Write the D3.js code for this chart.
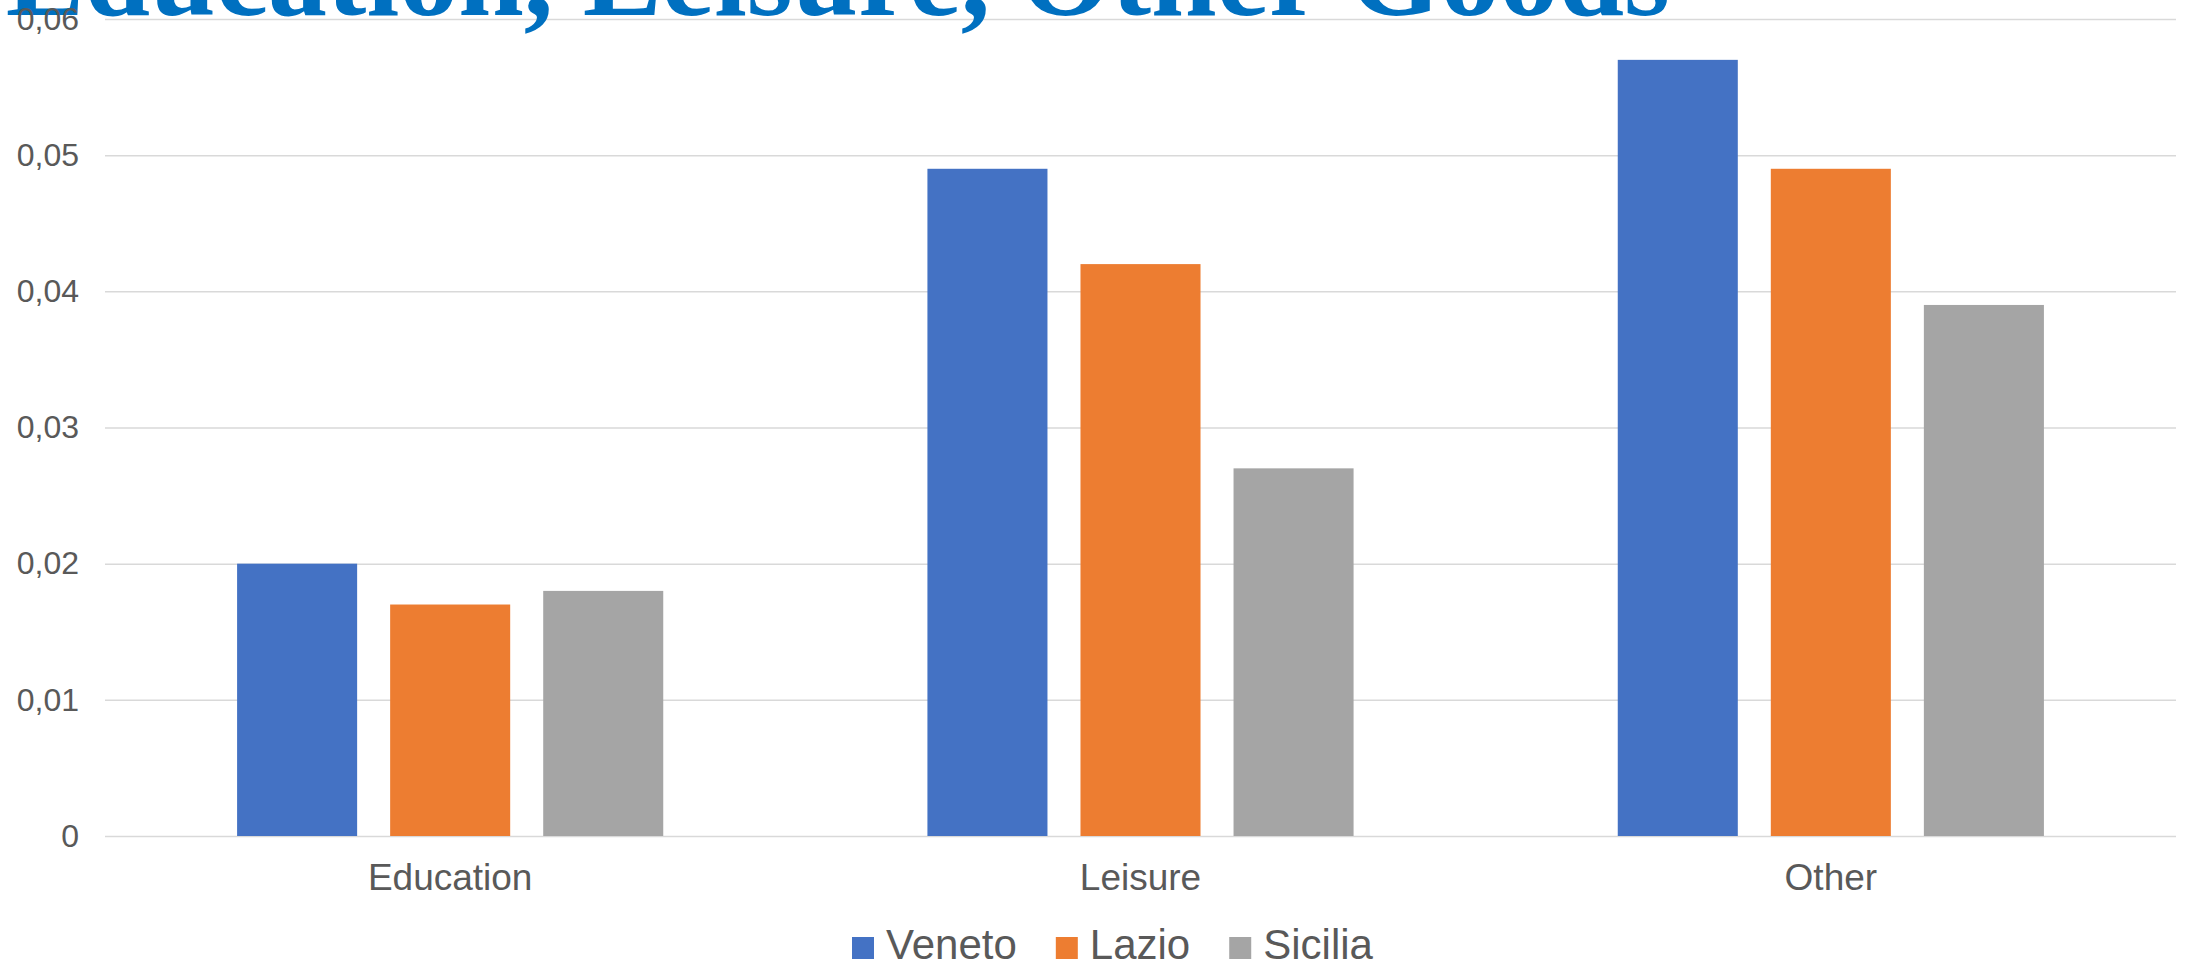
<!DOCTYPE html>
<html>
<head>
<meta charset="utf-8">
<script src="https://cdn.jsdelivr.net/npm/d3@7"></script>
<style>
  html, body { margin: 0; padding: 0; background: #ffffff; overflow: hidden; }
  svg { display: block; }
</style>
</head>
<body>
<svg id="chart" width="2188" height="969"></svg>
<script>
// Spending shares by category and region
const categories = ["Education", "Leisure", "Other"];
const regions = ["Veneto", "Lazio", "Sicilia"];
const veneto = [0.020, 0.049, 0.057];
const lazio = [0.017, 0.042, 0.049];
const sicilia = [0.018, 0.027, 0.039];
const yTicks = [0, 0.01, 0.02, 0.03, 0.04, 0.05, 0.06];
const yTickLabels = ["0", "0,01", "0,02", "0,03", "0,04", "0,05", "0,06"];
const colors = ["#4472C4", "#ED7D31", "#A5A5A5"];
const title = "Education, Leisure, Other Goods";

const seriesValues = [veneto, lazio, sicilia];
const rows = categories.map((c, i) => ({
  category: c,
  values: regions.map((r, j) => ({ region: r, value: seriesValues[j][i] }))
}));

const svg = d3.select("#chart");
const plot = { left: 105, right: 2176, top: 19, bottom: 836 };

const x0 = d3.scaleBand().domain(categories).range([plot.left, plot.right]).padding(0);
const x1 = d3.scaleBand().domain(regions).range([0, x0.bandwidth()])
  .paddingInner(0.2157).paddingOuter(0.863);
const y = d3.scaleLinear().domain([0, 0.06]).range([plot.bottom, plot.top]);
const color = d3.scaleOrdinal().domain(regions).range(colors);

// Horizontal gridlines
const yGrid = d3.axisLeft(y)
  .tickValues(yTicks)
  .tickFormat("")
  .tickSize(-(plot.right - plot.left));
const gGrid = svg.append("g")
  .attr("transform", `translate(${plot.left},0)`)
  .call(yGrid);
gGrid.select(".domain").remove();
gGrid.selectAll(".tick line").attr("stroke", "#D9D9D9").attr("stroke-width", 1.5);

// Bars
const groups = svg.append("g").selectAll("g")
  .data(rows)
  .join("g")
  .attr("transform", d => `translate(${x0(d.category)},0)`);

groups.selectAll("rect")
  .data(d => d.values)
  .join("rect")
  .attr("x", d => x1(d.region))
  .attr("width", x1.bandwidth())
  .attr("y", d => y(d.value))
  .attr("height", d => y(0) - y(d.value))
  .attr("fill", d => color(d.region));

// Chart title, partly running off the top edge
svg.append("text")
  .attr("x", 1670)
  .attr("y", 15)
  .attr("text-anchor", "end")
  .attr("fill", "#0070C0")
  .style("font-family", "'Liberation Serif', 'Times New Roman', serif")
  .style("font-weight", "bold")
  .style("font-size", "118px")
  .text(title);

// Value axis labels
const yAxis = d3.axisLeft(y)
  .tickValues(yTicks)
  .tickFormat((d, i) => yTickLabels[i])
  .tickSize(0)
  .tickPadding(26);
const gy = svg.append("g")
  .attr("transform", `translate(${plot.left},0)`)
  .call(yAxis);
gy.select(".domain").remove();
gy.selectAll(".tick text")
  .attr("fill", "#595959")
  .style("font-family", "'Liberation Sans', Arial, sans-serif")
  .style("font-size", "32px");

// Category axis labels
const xAxis = d3.axisBottom(x0).tickSize(0).tickPadding(0);
const gx = svg.append("g")
  .attr("transform", `translate(0,${plot.bottom})`)
  .call(xAxis);
gx.select(".domain").remove();
gx.selectAll(".tick text")
  .attr("y", 54)
  .attr("dy", 0)
  .attr("fill", "#595959")
  .style("font-family", "'Liberation Sans', Arial, sans-serif")
  .style("font-size", "37px");

// Legend
const legend = svg.append("g").attr("transform", "translate(0,959)");
const items = legend.selectAll("g")
  .data(regions)
  .join("g");
items.append("rect")
  .attr("y", -22)
  .attr("width", 22)
  .attr("height", 22)
  .attr("fill", d => color(d));
items.append("text")
  .attr("x", 34)
  .attr("y", 0)
  .attr("fill", "#595959")
  .style("font-family", "'Liberation Sans', Arial, sans-serif")
  .style("font-size", "42px")
  .text(d => d);

// Lay the legend entries out in a row
const gap = 39;
const widths = [];
items.each(function () {
  widths.push(this.getBBox().width);
});
let cursor = 852;
items.attr("transform", (d, i) => {
  const t = `translate(${cursor},0)`;
  cursor += widths[i] + gap;
  return t;
});
</script>
</body>
</html>
